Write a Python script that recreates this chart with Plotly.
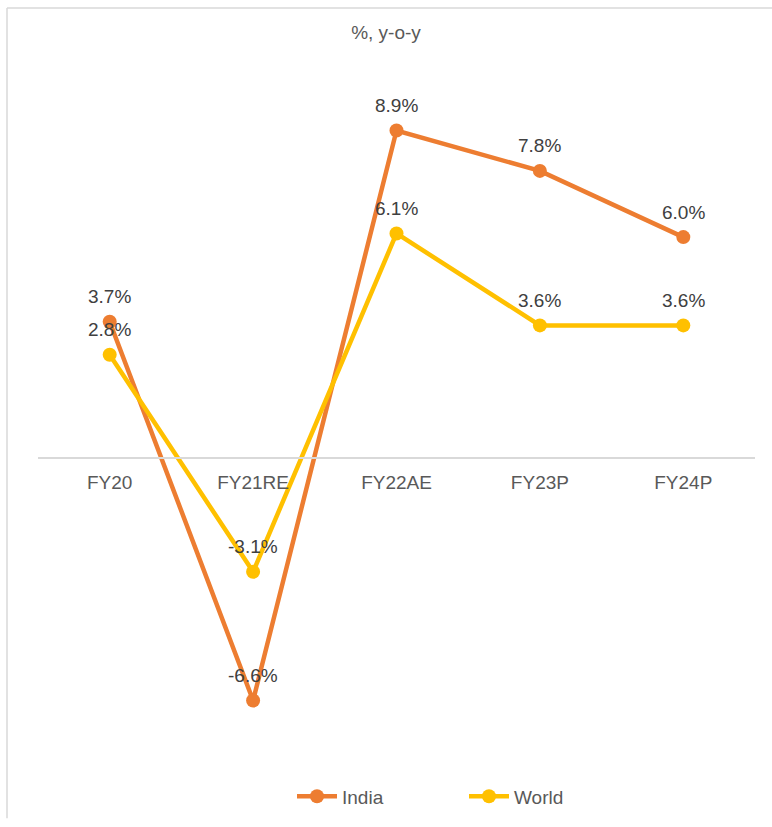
import plotly.graph_objects as go

categories = ["FY20", "FY21RE", "FY22AE", "FY23P", "FY24P"]
india = [3.7, -6.6, 8.9, 7.8, 6.0]
world = [2.8, -3.1, 6.1, 3.6, 3.6]

FONT = "Liberation Sans, Arial, sans-serif"
W, H = 772, 827
ML, MR, MT, MB = 38, 17, 90, 67
YMIN, YMAX = -8, 10

fig = go.Figure()
annotations = []
for name, vals, col in [("India", india, "#ED7D31"), ("World", world, "#FFC000")]:
    fig.add_trace(go.Scatter(
        x=categories, y=vals, name=name, mode="lines+markers",
        line=dict(color=col, width=4.5),
        marker=dict(color=col, size=14),
        cliponaxis=False, hoverinfo="skip",
    ))
    for c, v in zip(categories, vals):
        annotations.append(dict(x=c, y=v, text=f"{v:.1f}%", showarrow=False,
                                xanchor="center", yanchor="middle", yshift=25,
                                font=dict(family=FONT, size=19, color="#404040")))

pw = W - ML - MR
ph = H - MT - MB
fig.update_layout(
    width=W, height=H,
    margin=dict(l=ML, r=MR, t=MT, b=MB),
    paper_bgcolor="white", plot_bgcolor="white",
    font=dict(family=FONT, color="#595959"),
    title=dict(text="%, y-o-y", x=0.5, xanchor="center", y=1 - 32 / H, yanchor="middle",
               font=dict(family=FONT, size=19, color="#595959")),
    showlegend=True,
    legend=dict(orientation="h", x=(292 - ML) / pw, xanchor="left",
                y=(H - MB - 805) / ph, yanchor="middle",
                entrywidth=117, entrywidthmode="pixels",
                font=dict(family=FONT, size=19, color="#595959"), itemwidth=40),
    xaxis=dict(type="category", range=[-0.5, 4.5], anchor="free",
               position=(0 - YMIN) / (YMAX - YMIN),
               showline=True, linecolor="#D9D9D9", linewidth=1.5, showgrid=False,
               ticks="", tickfont=dict(family=FONT, size=19, color="#595959"), ticklabelstandoff=8),
    yaxis=dict(range=[YMIN, YMAX], visible=False, showgrid=False, zeroline=False),
    annotations=annotations,
    shapes=[
        dict(type="line", xref="paper", yref="paper", x0=(7 - ML) / pw, x1=(W - ML) / pw,
             y0=(H - MB - 7) / ph, y1=(H - MB - 7) / ph, line=dict(color="#D9D9D9", width=1.5)),
        dict(type="line", xref="paper", yref="paper", x0=(7 - ML) / pw, x1=(7 - ML) / pw,
             y0=(H - MB - 7) / ph, y1=(H - MB - H) / ph, line=dict(color="#D9D9D9", width=1.5)),
    ],
)
fig.write_html(
    "out.html",
    config={"displayModeBar": False},
    post_script=(
        "var d=document.getElementById('{plot_id}');"
        "d.style.position='fixed';d.style.top='0px';d.style.left='0px';"
        "document.body.style.margin='0';"
        "document.documentElement.style.overflow='hidden';"
        "document.body.style.overflow='hidden';"
    ),
)
